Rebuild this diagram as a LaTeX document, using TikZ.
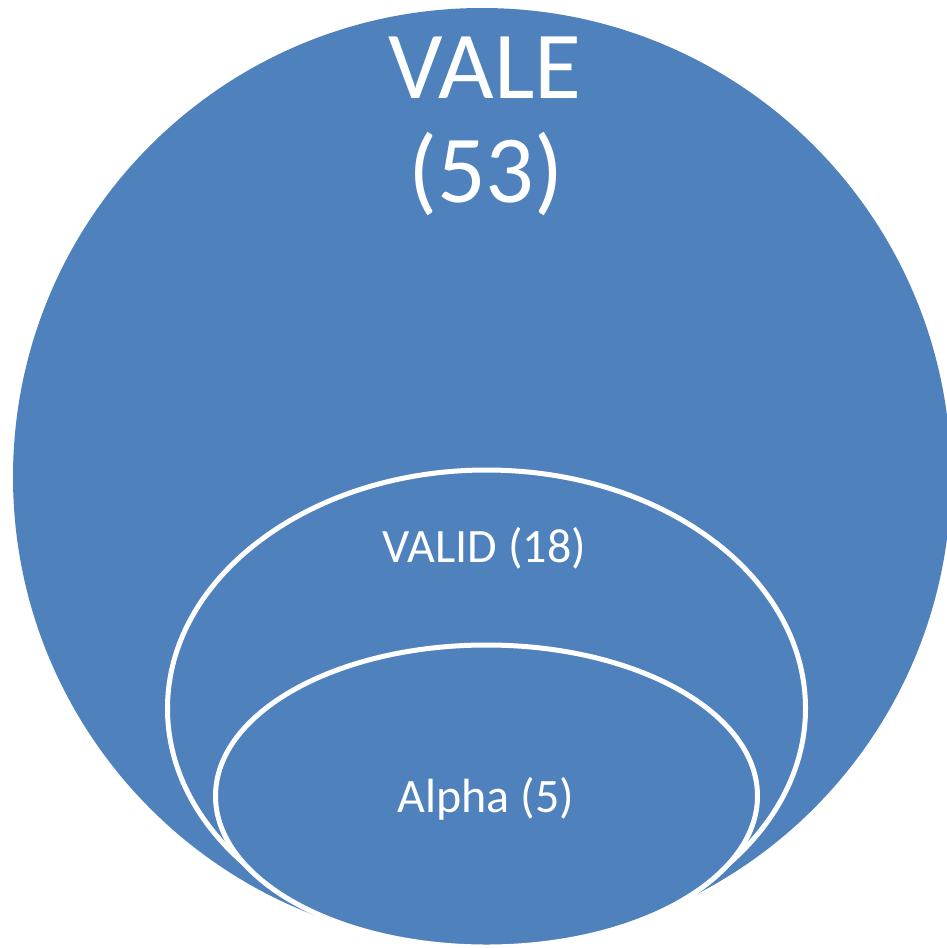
\documentclass[tikz,border=0pt]{standalone}
\usepackage{fontspec}
\setmainfont{Carlito}
\usetikzlibrary{shapes.geometric}
\definecolor{setblue}{RGB}{79,129,189}
\tikzstyle{set}=[fill=setblue, inner sep=0pt]
\tikzstyle{bigset}=[set, circle, minimum size=938pt]
\tikzstyle{subset}=[set, ellipse, draw=white, line width=5pt]
\tikzstyle{biglabel}=[white, anchor=base, inner sep=0pt, font=\fontsize{96}{104}\selectfont]
\tikzstyle{setlabel}=[white, anchor=base, inner sep=0pt, font=\fontsize{48}{58}\selectfont]

\begin{document}
\begin{tikzpicture}[x=1pt, y=-1pt]
        \useasboundingbox (0, 0) rectangle (947, 948);
        \node[bigset] (vale) at (482, 477) {};
        \node[subset, minimum width=638pt, minimum height=477pt] (valid) at (486.5, 708.5) {};
        \node[subset, minimum width=542pt, minimum height=302pt] (alpha) at (486.5, 796) {};
        \node[biglabel] (valetop) at (485, 98) {VALE};
        \node[biglabel] (valecount) at (486, 202) {(53)};
        \node[setlabel] (validlabel) at (484.5, 562) {VALID (18)};
        \node[setlabel] (alphalabel) at (486, 812) {Alpha (5)};
    \end{tikzpicture}
\end{document}
